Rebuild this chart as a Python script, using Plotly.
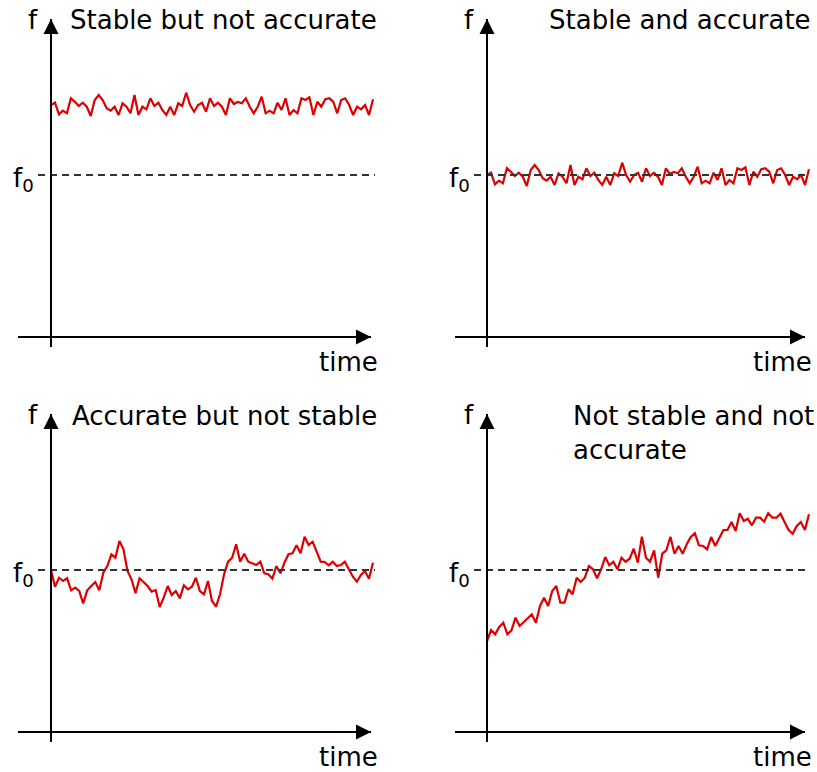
import plotly.graph_objects as go

# ---------------- data (frequency offset from f0, arbitrary units; sample index as time) ----
noise_stable = [0, 2.3, -9.3, -5.7, -8.3, 6.7, 3.3, -1, 2.3, -1.7, -11, 5, 10, 5, -3.3, -5.7,
                -1.7, -10, 1.7, -1.7, -8.3, 10, -10, -1.7, -4.3, 6.7, -1, 2.3, -5, -10, -1.7,
                -10, 1.7, -1, 12.3, 0, -6.7, 0, 2.3, -6.7, 6.7, -1, 2.3, -1.7, -10, 6.7, 1,
                3, 1.7, 6.7, -1.7, -8.3, -1.7, 8.3, -8.3, -5.7, -8.3, 2.3, -5, 6.7, -10, -5,
                -8.3, 6.7, 5, 7.7, -10, 3.3, -1.7, 5.7, 6.7, 3.3, -8.3, 5, 6.7, 0, -10, -1.7,
                -4.3, 0, -10, 5.7]
offset_not_accurate = 70

random_walk = [0, -16.7, -7.7, -11, -8.3, -20.3, -17.7, -21, -33.3, -20.3, -16, -12, -20.3,
               -2.7, 4, 15.7, 12.3, 29, 20.7, -1, -9.3, -23.3, -8.3, -12, -16, -21.7, -20,
               -37, -27.7, -16, -25, -21, -28.3, -15.3, -19.3, -16.7, -7.7, -21, -24.3,
               -11, -31, -36.7, -24.3, -4.3, 8.3, 12.3, 25.7, 8.3, 16.3, 8.3, 6.7, 5, 8.3,
               -3.3, -4.3, -8.7, 4, -3.3, 7.3, 15.7, 16.7, 24.7, 16.7, 33.3, 25, 28.3, 18.3,
               8.3, 8, 4.7, 8.3, 4, 5, 8.3, 0.7, -6.7, -11.7, -5, -1, -8.7, 7.3]

drift = [-71, -60, -64.3, -57, -52.7, -64.3, -60.3, -47.7, -56, -52, -48.3, -44.3, -52.7,
         -36, -27.7, -36, -21, -16, -32.7, -32.7, -19.3, -24.3, -7.7, -12, -7.7, 4, 0.7,
         -8.3, 0.7, 13, 4.7, 8.3, 0.7, 12.3, 8.3, 11.3, 21.3, 7.3, 33.3, 12.3, 8.3, 19.7,
         -7.7, 16.3, 19.7, 33.3, 16.3, 24, 16.3, 25.7, 33, 36.7, 24.7, 24, 20.7, 33, 24,
         31.7, 40, 40, 48, 39, 56.7, 49, 51.3, 44.7, 52.3, 52.3, 48.3, 56.7, 52.3, 52.3,
         56.3, 48, 40, 36.3, 44, 48, 40, 55.7]

titles = ["Stable but not accurate", "Stable and accurate",
          "Accurate but not stable", "Not stable and not<br>accurate"]

series = [
    [offset_not_accurate + v for v in noise_stable],
    list(noise_stable),
    random_walk,
    drift,
]

# ---------------- layout geometry (pixels of the 817x772 reference canvas) ----------------
W, H = 817, 772
FONT = "DejaVu Sans"
FS = 26
RED = "#dd0000"

panels = [
    dict(dom=(0, 408, 0, 386), ox=51, xy=337, f0=175, top=11, ybot=347, xl=18, xt=379, end=373,
         d0=38, d1=375, title_x=379, title_y=20, talign="right"),
    dict(dom=(409, 817, 0, 386), ox=487, xy=337, f0=175, top=11, ybot=347, xl=455, xt=813, end=809,
         d0=474, d1=810, title_x=813, title_y=20, talign="right"),
    dict(dom=(0, 408, 386, 772), ox=51, xy=732, f0=570, top=406, ybot=742, xl=18, xt=379, end=373,
         d0=38, d1=375, title_x=379, title_y=416, talign="right"),
    dict(dom=(409, 817, 386, 772), ox=487, xy=732, f0=570, top=406, ybot=742, xl=455, xt=813, end=809,
         d0=474, d1=810, title_x=571, title_y=416, talign="left"),
]


def pxx(x):
    return x / W


def pxy(y):
    return 1 - y / H


fig = go.Figure()
annotations = []
shapes = []
layout_axes = {}
txt = dict(family=FONT, size=FS, color="black")

# overlay axis in reference-pixel units for decorations
layout_axes["xaxis5"] = dict(domain=[0, 1], range=[0, W], visible=False, anchor="y5",
                             fixedrange=True)
layout_axes["yaxis5"] = dict(domain=[0, 1], range=[H, 0], visible=False, anchor="x5",
                             fixedrange=True)

arrow_x, arrow_y, arrow_sym = [], [], []

for i, (p, vals, title) in enumerate(zip(panels, series, titles), start=1):
    n = len(vals)
    s = (p["end"] - p["ox"]) / (n - 1)
    x0p, x1p, y0p, y1p = p["dom"]
    xname = "x" if i == 1 else f"x{i}"
    yname = "y" if i == 1 else f"y{i}"
    layout_axes["xaxis" if i == 1 else f"xaxis{i}"] = dict(
        domain=[pxx(x0p), pxx(x1p)],
        range=[(x0p - p["ox"]) / s, (x1p - p["ox"]) / s],
        visible=False, anchor=yname, fixedrange=True)
    layout_axes["yaxis" if i == 1 else f"yaxis{i}"] = dict(
        domain=[pxy(y1p), pxy(y0p)],
        range=[p["f0"] - y1p, p["f0"] - y0p],
        visible=False, anchor=xname, fixedrange=True)

    fig.add_trace(go.Scatter(x=list(range(n)), y=vals, mode="lines",
                             line=dict(color=RED, width=2.2), xaxis=xname, yaxis=yname,
                             hoverinfo="skip", showlegend=False))

    # f0 dashed reference
    shapes.append(dict(type="line", xref="x5", yref=yname, x0=p["d0"], x1=p["d1"],
                       y0=0, y1=0, line=dict(color="#333333", width=2, dash="7px,5px")))

    # axis lines
    shapes.append(dict(type="line", xref="x5", yref="y5", x0=p["ox"], x1=p["ox"],
                       y0=p["ybot"], y1=p["top"] + 8, line=dict(color="black", width=2)))
    shapes.append(dict(type="line", xref="x5", yref="y5", x0=p["xl"], x1=p["xt"] - 8,
                       y0=p["xy"], y1=p["xy"], line=dict(color="black", width=2)))
    arrow_x += [p["ox"], p["xt"] - 8]
    arrow_y += [p["top"] + 8, p["xy"]]
    arrow_sym += ["arrow-up", "arrow-right"]

    # labels
    annotations.append(dict(xref="x5", yref="y5", x=p["ox"] - 11, y=p["top"] + 9,
                            text="f", showarrow=False, xanchor="right", yanchor="middle", font=txt))
    annotations.append(dict(xref="x5", yref="y5", x=p["ox"] - 15, y=p["f0"] + 4,
                            text="f<sub>0</sub>", showarrow=False, xanchor="right", yanchor="middle",
                            font=txt))
    annotations.append(dict(xref="x5", yref="y5", x=p["xt"] + 1, y=p["xy"] + 25,
                            text="time", showarrow=False, xanchor="right", yanchor="middle", font=txt))
    if p["talign"] == "right":
        annotations.append(dict(xref="x5", yref="y5", x=p["title_x"], y=p["title_y"],
                                text=title, showarrow=False, xanchor="right", yanchor="middle",
                                font=txt))
    else:
        annotations.append(dict(xref="x5", yref="y5", x=p["title_x"], y=p["title_y"] - 17,
                                text=title, showarrow=False, xanchor="left", yanchor="top",
                                align="left", font=txt))

fig.add_trace(go.Scatter(x=arrow_x, y=arrow_y, mode="markers", xaxis="x5", yaxis="y5",
                         marker=dict(symbol=arrow_sym, size=15, color="black",
                                     line=dict(width=0)),
                         hoverinfo="skip", showlegend=False))

fig.update_layout(width=W, height=H, margin=dict(l=0, r=0, t=0, b=0),
                  paper_bgcolor="white", plot_bgcolor="rgba(0,0,0,0)",
                  annotations=annotations, shapes=shapes, **layout_axes)

fig.write_html("out.html", config={"displayModeBar": False},
               post_script="document.body.style.margin='0';"
                           "document.documentElement.style.overflow='hidden';"
                           "document.body.style.overflow='hidden';")
